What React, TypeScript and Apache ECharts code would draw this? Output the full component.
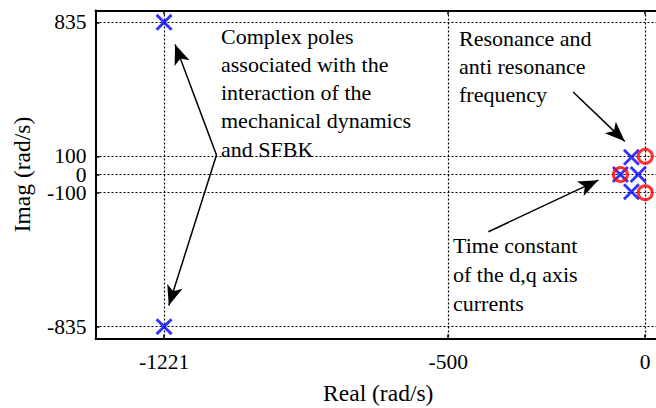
import React, { useEffect, useRef } from "react";
import * as echarts from "echarts";

// Pole-zero map data
const poleRe = [-1221, -1221, -35, -35, -18, -63];
const poleIm = [835, -835, 95, -95, 0, 0];
const zeroRe = [0, 0, -63];
const zeroIm = [100, -100, 0];

const xTicks = [-1221, -500, 0];
const yTicks = [-835, -100, 0, 100, 835];

// Annotation arrows: [startRe, startIm, endRe, endIm]
const arrows = [
  [-1088, 107, -1193, 714],
  [-1088, 107, -1209, -719],
  [-183, 453, -52, 182],
  [-398, -314, -119, -31],
];

const noteComplex = ["Complex poles", "associated with the", "interaction of the", "mechanical dynamics", "and SFBK"];
const noteResonance = ["Resonance and", "anti resonance", "frequency"];
const noteTime = ["Time constant", "of the d,q axis", "currents"];

const FONT = "Liberation Serif";
const CROSS = "path://M0,12L12,0L50,38L88,0L100,12L62,50L100,88L88,100L50,62L12,100L0,88L38,50Z";

export default function App() {
  const ref = useRef<HTMLDivElement>(null);
  useEffect(() => {
    if (!ref.current) return;
    const chart = echarts.init(ref.current, undefined, { renderer: "svg" });
    const poles = poleRe.map((x, i) => [x, poleIm[i]]);
    const zeros = zeroRe.map((x, i) => [x, zeroIm[i]]);
    const dotted = { color: "#000", width: 1.2, type: [2, 2] as number[] };
    const textStyle = { fontFamily: FONT, fontSize: 21.5, color: "#000" };
    const note = (lines: string[], x: number, y0: number, lh: number) =>
      lines.map((t, i) => ({
        type: "text",
        x,
        y: y0 + i * lh,
        silent: true,
        style: { text: t, fontFamily: FONT, fontSize: 22, fill: "#000", verticalAlign: "middle", align: "left" },
      }));
    chart.setOption({
      animation: false,
      graphic: [
        ...note(noteComplex, 221, 36, 28.3),
        ...note(noteResonance, 459, 38, 28),
        ...note(noteTime, 453, 245, 29),
      ],
      grid: { left: 95.5, right: -5, top: 10.5, bottom: 69.5, containLabel: false, outerBoundsMode: "none" },
      xAxis: [
        {
          type: "value",
          min: -1395,
          max: 40,
          name: "Real (rad/s)",
          nameLocation: "middle",
          nameGap: 42,
          nameTextStyle: { fontFamily: FONT, fontSize: 23.5, color: "#000" },
          axisLine: { show: true, onZero: false, lineStyle: { color: "#000", width: 2 } },
          axisTick: { show: true, inside: true, length: 4, customValues: xTicks, lineStyle: { color: "#000", width: 1.5 } },
          axisLabel: { ...textStyle, margin: 12, customValues: xTicks, formatter: (v: number) => String(v) },
          splitLine: { show: true, lineStyle: dotted },
        },
        {
          type: "value",
          position: "top",
          min: -1395,
          max: 40,
          axisLine: { show: true, onZero: false, lineStyle: { color: "#000", width: 2 } },
          axisTick: { show: true, inside: true, length: 4, customValues: xTicks, lineStyle: { color: "#000", width: 1.5 } },
          axisLabel: { show: false },
          splitLine: { show: false },
        },
      ],
      yAxis: [
        {
          type: "value",
          min: -900,
          max: 900,
          name: "Imag (rad/s)",
          nameLocation: "middle",
          nameGap: 62,
          nameTextStyle: { fontFamily: FONT, fontSize: 23.5, color: "#000" },
          axisLine: { show: true, onZero: false, lineStyle: { color: "#000", width: 2 } },
          axisTick: { show: true, inside: true, length: 4, customValues: yTicks, lineStyle: { color: "#000", width: 1.5 } },
          axisLabel: { ...textStyle, lineHeight: 16, margin: 9, customValues: yTicks, formatter: (v: number) => String(v) },
          splitLine: { show: true, lineStyle: dotted },
        },
      ],
      series: [
        {
          type: "scatter",
          name: "poles",
          data: poles,
          symbol: CROSS,
          symbolSize: 17,
          itemStyle: { color: "#0000ff" },
          z: 3,
          markLine: {
            silent: true,
            symbol: ["none", "arrow"],
            symbolSize: [12, 20],
            label: { show: false },
            lineStyle: { color: "#000", width: 1.5, type: "solid" },
            emphasis: { disabled: true },
            data: arrows.map((a) => [{ coord: [a[0], a[1]] }, { coord: [a[2], a[3]] }]),
          },
        },
        {
          type: "scatter",
          name: "zeros",
          data: zeros,
          symbol: "circle",
          symbolSize: 14,
          itemStyle: { color: "rgba(0,0,0,0)", borderColor: "#ff0000", borderWidth: 3 },
          z: 4,
        },
      ],
    });
    return () => chart.dispose();
  }, []);
  return (
    <div
      ref={ref}
      style={{ position: "fixed", left: 0, top: 0, width: 656, height: 408, background: "#fff" }}
    />
  );
}
